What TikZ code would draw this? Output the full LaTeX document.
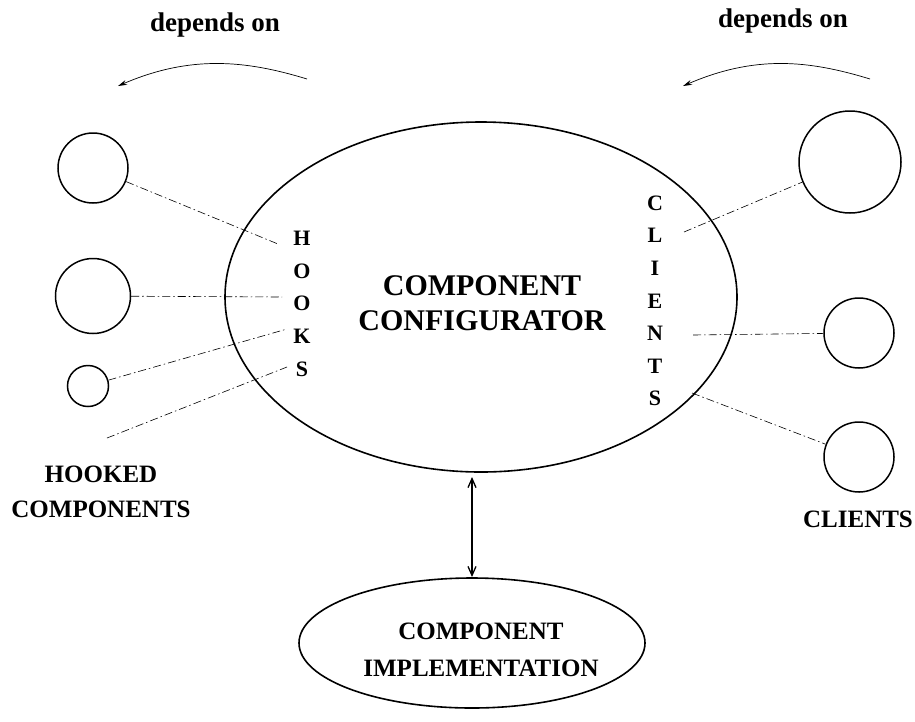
\documentclass[tikz,border=0pt]{standalone}
\usepackage{fontspec}
\setmainfont{Liberation Serif}[BoldFont={Liberation Serif Bold}]
\usetikzlibrary{shapes.geometric,arrows.meta}

\tikzset{
  ring/.style={draw, circle, line width=1.5pt, inner sep=0pt},
  oval/.style={draw, ellipse, line width=1.6pt, inner sep=0pt},
  linkline/.style={line width=0.6pt, dash pattern=on 8pt off 3pt on 1.5pt off 3pt},
  vletter/.style={font=\bfseries\fontsize{22}{22}\selectfont, inner sep=0pt},
  lbl/.style={font=\bfseries\fontsize{25}{35}\selectfont, align=center, inner sep=0pt},
  deptext/.style={font=\bfseries\fontsize{27}{30}\selectfont, inner sep=0pt}
}

\begin{document}
\begin{tikzpicture}[x=1pt, y=-1pt]
    \useasboundingbox (0,0) rectangle (915,721);

    % Central configurator and implementation
    \node[oval, minimum width=512, minimum height=350] (cfg) at (481,297) {};
    \node[font=\bfseries\fontsize{30}{35}\selectfont, align=center, inner sep=0pt]
        (cfgtext) at (482,303) {COMPONENT\\CONFIGURATOR};
    \node[oval, minimum width=346, minimum height=130] (impl) at (472,643) {};
    \node[lbl, font=\bfseries\fontsize{25}{37}\selectfont] (impltext) at (481,650) {COMPONENT\\IMPLEMENTATION};

    % Double arrow between them
    \coordinate (arrtop) at (472,477);
    \coordinate (arrbot) at (472,577);
    \draw[line width=1.3pt, {Straight Barb[length=9pt,width=8pt]}-{Straight Barb[length=9pt,width=8pt]}]
        (arrtop) -- (arrbot);

    % Vertical letters
    \foreach \ch [count=\i] in {H,O,O,K,S}
        \node[vletter] (hk\i) at (302,{238.5+(\i-1)*32.6}) {\ch};
    \foreach \ch [count=\i] in {C,L,I,E,N,T,S}
        \node[vletter] (cl\i) at (655,{203+(\i-1)*32.6}) {\ch};

    % Hooked components (left)
    \node[ring, minimum size=70] (hc1) at (93,168) {};
    \node[ring, minimum size=75] (hc2) at (93,296) {};
    \node[ring, minimum size=41] (hc3) at (88,386) {};
    \coordinate (he1) at (278,244);
    \coordinate (he2) at (282,297);
    \coordinate (he3) at (287,329);
    \coordinate (he4) at (287,367);
    \coordinate (hfree) at (107,438);
    \draw[linkline] (hc1) -- (he1);
    \draw[linkline] (hc2) -- (he2);
    \draw[linkline] (hc3) -- (he3);
    \draw[linkline] (hfree) -- (he4);
    \node[lbl] (hooklbl) at (101,492) {HOOKED\\COMPONENTS};

    % Clients (right)
    \node[ring, minimum size=102] (cc1) at (850,162) {};
    \node[ring, minimum size=70] (cc2) at (859,333) {};
    \node[ring, minimum size=70] (cc3) at (859,457) {};
    \coordinate (ce1) at (684,232);
    \coordinate (ce2) at (693,335);
    \coordinate (ce3) at (692,393);
    \draw[linkline] (ce1) -- (cc1);
    \draw[linkline] (ce2) -- (cc2);
    \draw[linkline] (ce3) -- (cc3);
    \node[lbl] (clientlbl) at (858,519) {CLIENTS};

    % depends on arrows
    \node[deptext] (depl) at (215,25) {depends on};
    \node[deptext] (depr) at (783,21) {depends on};
    \coordinate (dls) at (307,79);
    \coordinate (dle) at (118,86);
    \coordinate (drs) at (870,79);
    \coordinate (dre) at (683,86);
    \draw[line width=0.7pt, -{Stealth[length=9pt,width=5pt]}]
        (dls) .. controls (245,60) and (190,55) .. (dle);
    \draw[line width=0.7pt, -{Stealth[length=9pt,width=5pt]}]
        (drs) .. controls (808,60) and (755,55) .. (dre);
\end{tikzpicture}
\end{document}
